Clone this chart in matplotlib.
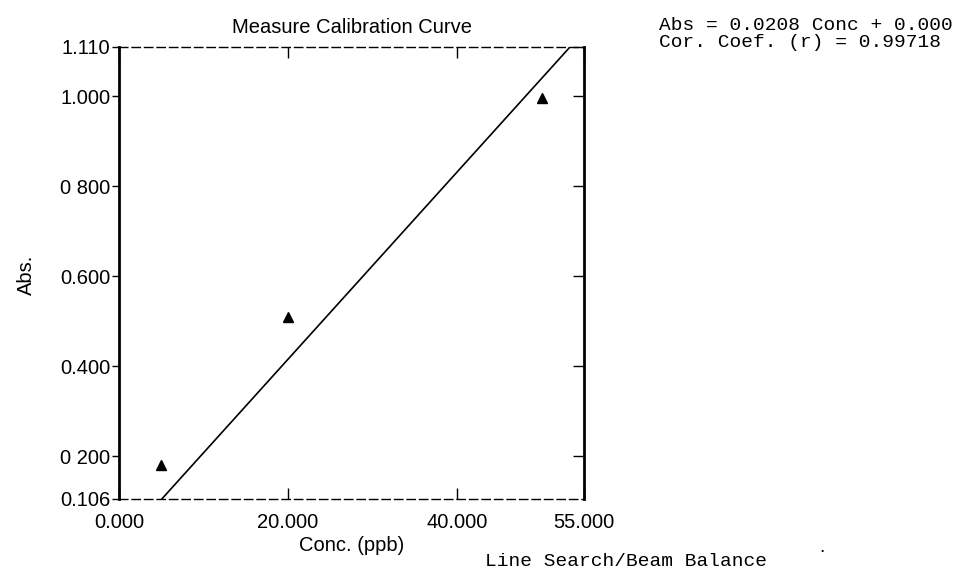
import matplotlib.pyplot as plt
import numpy as np

# calibration standards
conc = [5.0, 20.0, 50.0]
absorb = [0.18, 0.51, 0.995]

# fit reported by the instrument
slope = 0.0208
intercept = 0.000

x_ticks = [0.0, 20.0, 40.0, 55.0]
x_labels = ["0.000", "20.000", "40.000", "55.000"]
y_ticks = [0.106, 0.200, 0.400, 0.600, 0.800, 1.000, 1.110]
y_labels = ["0.106", "0 200", "0.400", "0.600", "0 800", "1.000", "1.110"]

plt.rcParams['font.family'] = ['Liberation Sans', 'DejaVu Sans']

fig = plt.figure(figsize=(9.67, 5.84), dpi=100)
ax = fig.add_axes([0.123, 0.146, 0.481, 0.774])

fit_x = np.array([0.0, 55.0])
ax.plot(fit_x, slope * fit_x + intercept, color='black', lw=1.2)
ax.plot(conc, absorb, linestyle='none', marker='^', color='black', markersize=7)

ax.set_xlim(0, 55)
ax.set_ylim(0.106, 1.110)

ax.set_xticks(x_ticks)
ax.set_xticklabels(x_labels, fontsize=14.5)
ax.set_yticks(y_ticks)
ax.set_yticklabels(y_labels, fontsize=14.5)
ax.tick_params(axis='x', direction='in', top=True, length=8, width=1, pad=10)
ax.tick_params(axis='y', direction='out', length=5, width=1, pad=1)

for side in ['left', 'right']:
    ax.spines[side].set_linewidth(2.0)
for side in ['top', 'bottom']:
    ax.spines[side].set_linewidth(1.0)
    ax.spines[side].set_linestyle((0, (6, 3)))

# inward ticks on the right edge
ax_r = ax.twinx()
ax_r.set_ylim(ax.get_ylim())
ax_r.set_yticks(y_ticks[1:])
ax_r.set_yticklabels([])
ax_r.tick_params(axis='y', direction='in', length=8, width=1)
for s in ax_r.spines.values():
    s.set_visible(False)

ax.set_title("Measure Calibration Curve", fontsize=14.5, pad=10)
ax.set_xlabel("Conc. (ppb)", fontsize=14.5, labelpad=3)
fig.text(0.027, 0.53, "Abs.", rotation=90, fontsize=14.5, ha='center', va='center')

mono = dict(family=['Liberation Mono', 'DejaVu Sans Mono'], fontsize=14)
fig.text(0.682, 0.957, "Abs = 0.0208 Conc + 0.000", va='center', **mono)
fig.text(0.682, 0.928, "Cor. Coef. (r) = 0.99718", va='center', **mono)
fig.text(0.502, 0.038, "Line Search/Beam Balance", va='center', **mono)
fig.text(0.85, 0.062, ".", fontsize=14, ha='center', va='center')

plt.savefig("out.png", dpi=100)
